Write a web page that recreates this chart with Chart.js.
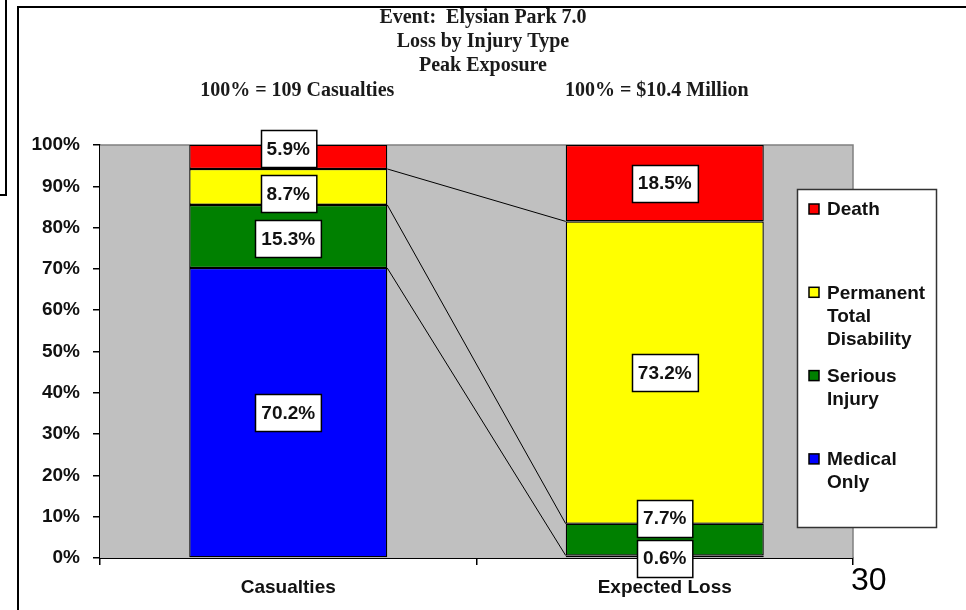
<!DOCTYPE html>
<html>
<head>
<meta charset="utf-8">
<script src="https://cdn.jsdelivr.net/npm/chart.js@4/dist/chart.umd.min.js"></script>
<style>
  html, body { margin: 0; padding: 0; background: #fff; }
  #wrap { position: relative; width: 966px; height: 610px; overflow: hidden; }
  #wrap canvas { position: absolute; left: 0; top: 0; }
  .frame { position: absolute; left: 17px; top: 6px; width: 980px; height: 640px;
           border-left: 2px solid #000; border-top: 2px solid #000; pointer-events: none; }
  .side { position: absolute; left: -4px; top: -4px; width: 7px; height: 196px;
          border: 2px solid #000; pointer-events: none; }
  .page { position: absolute; left: 851px; top: 563px; font: 32px "Liberation Sans", Arial, sans-serif;
          line-height: 32px; color: #000; }
</style>
</head>
<body>
<div id="wrap">
  <canvas id="loss_chart" width="966" height="610"></canvas>
  <div class="side"></div>
  <div class="frame"></div>
  <div class="page">30</div>
</div>
<script>
const categories = ["Casualties", "Expected Loss"];
const seriesNames = ["Medical Only", "Serious Injury", "Permanent Total Disability", "Death"];
const seriesColors = ["#0000ff", "#008000", "#ffff00", "#ff0000"];
const medicalOnly = [70.2, 0.6];
const seriousInjury = [15.3, 7.7];
const permanentTotal = [8.7, 73.2];
const death = [5.9, 18.5];
const titleLines = ["Event:  Elysian Park 7.0", "Loss by Injury Type", "Peak Exposure"];
const baseNotes = ["100% = 109 Casualties", "100% = $10.4 Million"];

const SANS = '"Liberation Sans", Arial, sans-serif';
const SERIF = '"Liberation Serif", "Times New Roman", serif';

Chart.defaults.font.family = SANS;
Chart.defaults.font.size = 19;
Chart.defaults.font.weight = "bold";
Chart.defaults.color = "#111";

const seriesValues = [medicalOnly, seriousInjury, permanentTotal, death];

// gray plot area like the old spreadsheet look
const plotBackground = {
  id: "plotBackground",
  beforeDatasetsDraw(chart) {
    const { ctx, chartArea: a } = chart;
    ctx.save();
    ctx.fillStyle = "#c0c0c0";
    ctx.fillRect(a.left, a.top, a.right - a.left, a.bottom - a.top);
    ctx.strokeStyle = "#808080";
    ctx.lineWidth = 1.5;
    ctx.beginPath();
    ctx.moveTo(a.left, a.top);
    ctx.lineTo(a.right, a.top);
    ctx.lineTo(a.right, a.bottom);
    ctx.stroke();
    ctx.restore();
  },
};

// lines joining the segment tops of the two stacks
const seriesLines = {
  id: "seriesLines",
  afterDatasetsDraw(chart) {
    const ctx = chart.ctx;
    ctx.save();
    ctx.strokeStyle = "#000";
    ctx.lineWidth = 1;
    for (let i = 0; i < seriesValues.length - 1; i++) {
      const meta = chart.getDatasetMeta(i);
      const a = meta.data[0];
      const b = meta.data[1];
      ctx.beginPath();
      ctx.moveTo(a.x + a.width / 2, a.y);
      ctx.lineTo(b.x - b.width / 2, b.y);
      ctx.stroke();
    }
    ctx.restore();
  },
};

// boxed value labels, nudged apart when they collide
const boxedLabels = {
  id: "boxedLabels",
  afterDatasetsDraw(chart) {
    const { ctx, chartArea } = chart;
    const boxH = 37;
    const minGap = 45;
    ctx.save();
    ctx.font = "bold 19px " + SANS;
    ctx.textAlign = "center";
    ctx.textBaseline = "middle";
    categories.forEach((cat, j) => {
      const items = seriesValues.map((vals, i) => {
        const el = chart.getDatasetMeta(i).data[j];
        return { x: el.x, y: (el.y + el.base) / 2, text: vals[j].toFixed(1) + "%" };
      });
      items.sort((p, q) => p.y - q.y);
      for (let pass = 0; pass < 30; pass++) {
        for (let k = 1; k < items.length; k++) {
          const d = minGap - (items[k].y - items[k - 1].y);
          if (d > 0) {
            items[k - 1].y -= d / 2;
            items[k].y += d / 2;
          }
        }
        const last = items[items.length - 1];
        if (last.y > chartArea.bottom) last.y = chartArea.bottom;
      }
      // the bottom pair may sit flush against each other
      const n = items.length;
      if (items[n - 1].y >= chartArea.bottom && items[n - 1].y - items[n - 2].y > boxH + 3) {
        items[n - 2].y = items[n - 1].y - (boxH + 3);
      }
      items.forEach((it) => {
        const w = ctx.measureText(it.text).width + 12;
        const x0 = Math.round(it.x - w / 2) + 0.5;
        const y0 = Math.round(it.y - boxH / 2) + 0.5;
        ctx.fillStyle = "#fff";
        ctx.fillRect(x0, y0, w, boxH);
        ctx.strokeStyle = "#000";
        ctx.lineWidth = 1.5;
        ctx.strokeRect(x0, y0, w, boxH);
        ctx.fillStyle = "#111";
        ctx.fillText(it.text, it.x, it.y + 1);
      });
    });
    ctx.restore();
  },
};

// title block, base notes and the legend box
const annotations = {
  id: "annotations",
  afterDraw(chart) {
    const ctx = chart.ctx;
    const xs = chart.scales.x;
    ctx.save();
    ctx.fillStyle = "#1a1a1a";
    ctx.textAlign = "center";
    ctx.textBaseline = "middle";
    ctx.font = "bold 20px " + SERIF;
    const lineY = [18, 42, 66];
    titleLines.forEach((t, i) => ctx.fillText(t, chart.width / 2, lineY[i]));
    baseNotes.forEach((t, j) => ctx.fillText(t, xs.getPixelForValue(j) + (j === 0 ? 9 : -8), 91));

    // legend
    const lx = 797, ly = 189, lw = 139, lh = 338;
    ctx.fillStyle = "#fff";
    ctx.fillRect(lx, ly, lw, lh);
    ctx.strokeStyle = "#333";
    ctx.lineWidth = 1.5;
    ctx.strokeRect(lx + 0.5, ly + 0.5, lw, lh);
    ctx.font = "bold 19px " + SANS;
    ctx.textAlign = "left";
    const order = [3, 2, 1, 0];
    order.forEach((s, n) => {
      const y = 209 + n * 83.3;
      ctx.fillStyle = seriesColors[s];
      ctx.fillRect(809, y - 5, 10, 10);
      ctx.strokeStyle = "#000";
      ctx.lineWidth = 1.5;
      ctx.strokeRect(809, y - 5, 10, 10);
      ctx.fillStyle = "#111";
      seriesNames[s].split(" ").forEach((word, k) => {
        ctx.fillText(word, 827, y + 1 + k * 23);
      });
    });
    ctx.restore();
  },
};

const loss_ctx = document.getElementById("loss_chart");

const loss_chart = new Chart(loss_ctx, {
  type: "bar",
  data: {
    labels: categories,
    datasets: seriesValues.map((vals, i) => ({
      label: seriesNames[i],
      data: vals,
      backgroundColor: seriesColors[i],
      borderColor: "#000",
      borderWidth: 1.3,
      borderSkipped: false,
      categoryPercentage: 1,
      barPercentage: 0.526,
    })),
  },
  options: {
    responsive: false,
    animation: false,
    layout: { padding: { top: 145, right: 113, left: 0, bottom: 0 } },
    plugins: {
      legend: { display: false },
      tooltip: { enabled: false },
      title: { display: false },
    },
    scales: {
      x: {
        stacked: true,
        afterFit(scale) { scale.height = 52; },
        grid: { drawOnChartArea: false, drawTicks: true, tickLength: 7, color: "#000", lineWidth: 1.5 },
        border: { color: "#000", width: 2 },
        ticks: { padding: 11, color: "#111" },
      },
      y: {
        stacked: true,
        min: 0,
        max: 100,
        afterFit(scale) { scale.width = 100; },
        grid: { drawOnChartArea: false, drawTicks: true, tickLength: 7, color: "#000", lineWidth: 1.5 },
        border: { color: "#000", width: 1.5 },
        ticks: {
          stepSize: 10,
          padding: 13,
          color: "#111",
          callback: (v) => v + "%",
        },
      },
    },
  },
  plugins: [plotBackground, seriesLines, boxedLabels, annotations],
});
</script>
</body>
</html>
